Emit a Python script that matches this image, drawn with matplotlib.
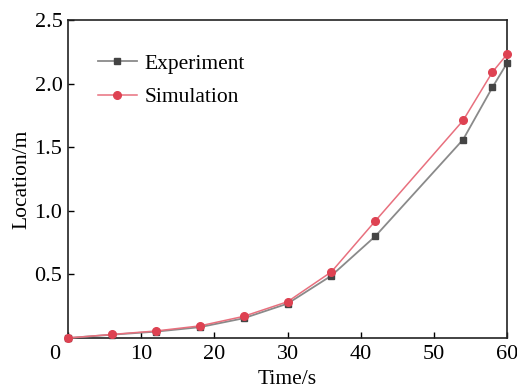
import matplotlib
matplotlib.use("Agg")
import matplotlib.pyplot as plt
from matplotlib.transforms import ScaledTranslation

plt.rcParams['font.family'] = ['Liberation Serif', 'DejaVu Serif']
plt.rcParams['mathtext.fontset'] = 'stix'

time_s = [0, 6, 12, 18, 24, 30, 36, 42, 54, 58, 60]
experiment = [0.0, 0.026, 0.05, 0.085, 0.155, 0.27, 0.49, 0.80, 1.56, 1.97, 2.16]
simulation = [0.0, 0.028, 0.055, 0.095, 0.17, 0.285, 0.52, 0.92, 1.71, 2.09, 2.23]

xticks = [0, 10, 20, 30, 40, 50, 60]
yticks = [0.5, 1.0, 1.5, 2.0, 2.5]

fig = plt.figure(figsize=(5.17, 3.87), dpi=100)
ax = fig.add_axes([68/517, 1 - 338/387, (507-68)/517, (338-20)/387])

ax.plot(time_s, experiment, color='#8a8a8a', lw=1.3, marker='s', ms=5,
        mfc='#444444', mec='#444444', label='Experiment', clip_on=False, zorder=3)
ax.plot(time_s, simulation, color='#e8707e', lw=1.1, marker='o', ms=5.5,
        mfc='#de4252', mec='#de4252', label='Simulation', clip_on=False, zorder=4)

ax.set_xlim(0, 60)
ax.set_ylim(0, 2.5)
ax.set_xticks(xticks)
ax.set_yticks(yticks)
ax.set_yticklabels([f"{v:.1f}" for v in yticks])
ax.tick_params(direction='in', labelsize=16, length=4, width=1)
ax.tick_params(axis='x', pad=5)
ax.tick_params(axis='y', pad=4)
for s in ax.spines.values():
    s.set_linewidth(1.2)
    s.set_color('#222222')

lbl0 = ax.get_xticklabels()[0]
lbl0.set_transform(lbl0.get_transform() + ScaledTranslation(-13/100, 0, fig.dpi_scale_trans))

ax.set_xlabel('Time/s', fontsize=15.5, labelpad=4)
ax.set_ylabel('Location/m', fontsize=15.5, labelpad=2)

ax.legend(loc='upper left', bbox_to_anchor=(30/439, 0.894), frameon=False, fontsize=15.5,
          handlelength=1.8, handletextpad=0.35, labelspacing=0.62,
          borderpad=0, borderaxespad=0)

fig.savefig('out.png', dpi=100)
